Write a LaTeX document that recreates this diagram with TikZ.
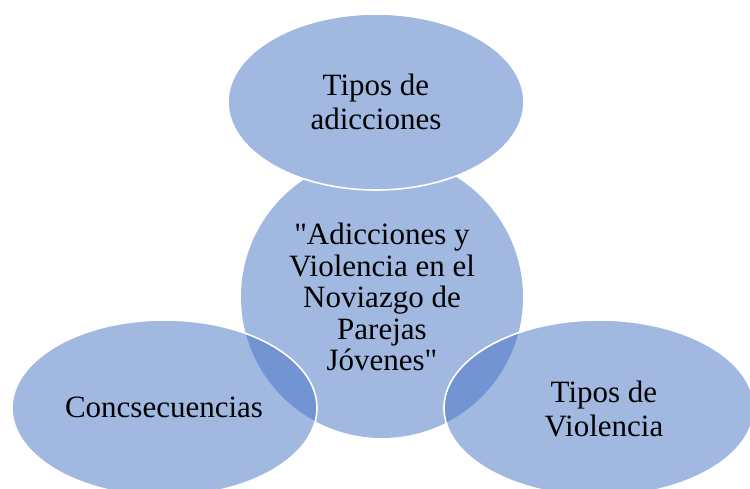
\documentclass[tikz,border=0pt]{standalone}
\usepackage{fontspec}
\setmainfont{Liberation Serif}[Ligatures=TeXOff]
\definecolor{fillA}{HTML}{A1B8E1}
\definecolor{acc}{HTML}{4472C4}
\begin{document}
\begin{tikzpicture}[x=0.75pt,y=-0.75pt,
  lbl/.style={font=\fontsize{23.25pt}{25.5pt}\selectfont, align=center, text=black, inner sep=0pt},
  lblc/.style={font=\fontsize{23.25pt}{23.6pt}\selectfont, align=center, text=black, inner sep=0pt},
  solidshape/.style={fill=fillA, draw=white, line width=1.2pt},
  glassshape/.style={fill=acc, fill opacity=0.5, draw=white, draw opacity=1, line width=1.2pt}]
\useasboundingbox (0,0) rectangle (750,489);
\clip (0,0) rectangle (750,489);
% shapes
\fill[fillA] (382,297) circle (141);
\filldraw[solidshape] (376,102) ellipse (148 and 88);
\filldraw[glassshape] (164.5,408) ellipse (152.5 and 88);
\filldraw[glassshape] (599,408) ellipse (155 and 88);
% labels
\node[lblc] (center) at (382,297) {"Adicciones y\\Violencia en el\\Noviazgo de\\Parejas\\Jóvenes"};
\node[lbl] (top) at (376,102) {Tipos de\\adicciones};
\node[lbl] (left) at (164,407) {Concsecuencias};
\node[lbl] (right) at (604,409) {Tipos de\\Violencia};
\end{tikzpicture}
\end{document}
